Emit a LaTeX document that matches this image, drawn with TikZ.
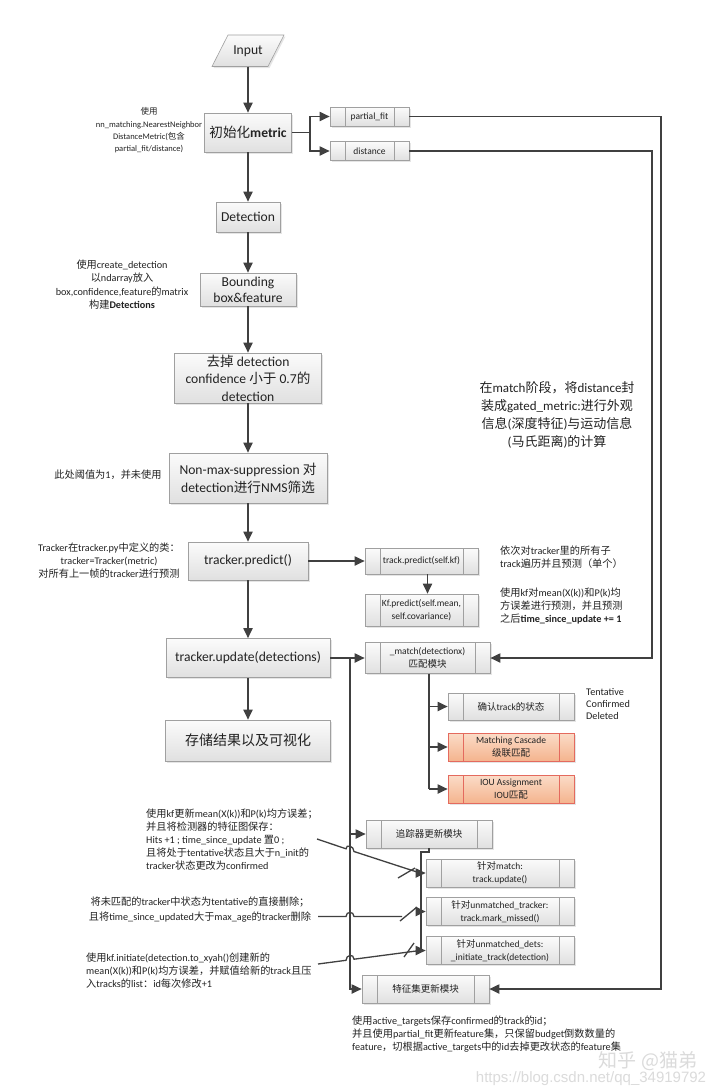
\documentclass[tikz,border=0pt]{standalone}
\usepackage{fontspec}
\setmainfont{Carlito}
\newfontfamily\cjkfont{Noto Sans CJK SC}
\newfontfamily\wmfont{Liberation Sans}
\usetikzlibrary{arrows.meta,shadows,calc}
\XeTeXinterchartokenstate=1
\chardef\CJKcls=7
\makeatletter
\count@="21 \loop\ifnum\count@<"7F \XeTeXcharclass\count@=0 \advance\count@ by 1 \repeat
\count@="3000 \loop\ifnum\count@<"3040 \XeTeXcharclass\count@=\CJKcls \advance\count@ by 1 \repeat
\count@="4E00 \loop\ifnum\count@<"A000 \XeTeXcharclass\count@=\CJKcls \advance\count@ by 1 \repeat
\count@="FF00 \loop\ifnum\count@<"FFF0 \XeTeXcharclass\count@=\CJKcls \advance\count@ by 1 \repeat
\makeatother
\XeTeXinterchartoks 0 \CJKcls = {\begingroup\cjkfont}
\XeTeXinterchartoks 4095 \CJKcls = {\begingroup\cjkfont}
\XeTeXinterchartoks \CJKcls 0 = {\endgroup}
\XeTeXinterchartoks \CJKcls 4095 = {\endgroup}
\definecolor{lineC}{HTML}{404040}
\definecolor{boxB}{HTML}{A0A0A0}
\definecolor{boxT}{HTML}{FBFBFB}
\definecolor{boxBot}{HTML}{E0E0E0}
\definecolor{orT}{HTML}{FBDCC8}
\definecolor{orB}{HTML}{F4B48E}
\definecolor{orD}{HTML}{E46A5E}
\definecolor{txtC}{HTML}{222222}
\begin{document}
\begin{tikzpicture}[x=1pt,y=-1pt,
  box/.style={draw=boxB, line width=0.6pt, top color=boxT, bottom color=boxBot,
    inner sep=0pt, align=center, text=txtC, font=\fontsize{13.6}{17}\selectfont,
    drop shadow={shadow xshift=1.5pt,shadow yshift=-1.5pt,opacity=0.2}},
  subbox/.style={box, font=\fontsize{9.5}{12.5}\selectfont,
    path picture={
      \draw[#1,line width=0.6pt] ([xshift=15pt]path picture bounding box.north west) -- ([xshift=15pt]path picture bounding box.south west);
      \draw[#1,line width=0.6pt] ([xshift=-15pt]path picture bounding box.north east) -- ([xshift=-15pt]path picture bounding box.south east);}},
  subbox/.default=boxB,
  orbox/.style={subbox=orD, draw=orD, top color=orT, bottom color=orB},
  conn/.style={draw=lineC, line width=1.8pt},
  arr/.style={conn, -{Triangle[length=10pt,width=9pt]}},
  note/.style={inner sep=0pt, text=txtC, font=\fontsize{10.2}{13}\selectfont},
]
\useasboundingbox (0,0) rectangle (720,1092);
\fill[white] (0,0) rectangle (720,1092);

% Input parallelogram
\path[draw=boxB, line width=0.6pt, top color=boxT, bottom color=boxBot,
  drop shadow={shadow xshift=1.5pt,shadow yshift=-1.5pt,opacity=0.2}]
  (228,35) -- (284,35) -- (268,66.5) -- (212,66.5) -- cycle;
\node[inner sep=0pt, minimum height=31.5pt, text=txtC, font=\fontsize{13.6}{17}\selectfont] (input) at (248,50.75) {Input};

% main column
\node[box, minimum width=87pt, minimum height=39pt] (metric) at (248,132.5) {初始化\textbf{metric}};
\node[subbox, minimum width=79pt, minimum height=19pt] (pf) at (369.5,116.5) {partial\_fit};
\node[subbox, minimum width=79pt, minimum height=19pt] (dist) at (369.5,151) {distance};
\node[box, minimum width=64pt, minimum height=30pt] (det) at (248,217) {Detection};
\node[box, minimum width=96pt, minimum height=33pt, font=\fontsize{13.6}{16}\selectfont] (bbox) at (248,289.5) {Bounding\\box\&feature};
\node[box, minimum width=147pt, minimum height=50pt, font=\fontsize{13.6}{17.5}\selectfont] (drop) at (248,378) {去掉 detection\\confidence 小于 0.7的\\detection};
\node[box, minimum width=158pt, minimum height=50pt, font=\fontsize{13.6}{18}\selectfont] (nms) at (248,478) {Non-max-suppression 对\\detection进行NMS筛选};
\node[box, minimum width=120pt, minimum height=38pt] (pred) at (248,561) {tracker.predict()};
\node[subbox, minimum width=113pt, minimum height=26pt] (tpred) at (421.5,561) {track.predict(self.kf)};
\node[subbox, minimum width=113pt, minimum height=32pt] (kfp) at (421.5,610) {Kf.predict(self.mean,\\self.covariance)};
\node[box, minimum width=164pt, minimum height=39pt] (upd) at (248,658) {tracker.update(detections)};
\node[subbox, minimum width=125pt, minimum height=31pt] (match) at (427.5,658) {\_match(detectionx)\\匹配模块};
\node[box, minimum width=165pt, minimum height=41pt, font=\fontsize{14}{17}\selectfont] (store) at (248,740.5) {存储结果以及可视化};
\node[subbox, minimum width=126pt, minimum height=27pt] (conf) at (511,706.5) {确认track的状态};
\node[orbox, minimum width=126pt, minimum height=28pt] (casc) at (511,747) {Matching Cascade\\级联匹配};
\node[orbox, minimum width=126pt, minimum height=28pt] (iou) at (511,789) {IOU Assignment\\IOU匹配};
\node[subbox, minimum width=126pt, minimum height=28pt] (tupd) at (429,834) {追踪器更新模块};
\node[subbox, minimum width=148pt, minimum height=28pt] (m1) at (500,873) {针对match:\\track.update()};
\node[subbox, minimum width=148pt, minimum height=28pt] (m2) at (500,911.5) {针对unmatched\_tracker:\\track.mark\_missed()};
\node[subbox, minimum width=148pt, minimum height=28pt] (m3) at (500,950.5) {针对unmatched\_dets:\\\_initiate\_track(detection)};
\node[subbox, minimum width=127pt, minimum height=28pt] (feat) at (425.5,989) {特征集更新模块};

% main arrows
\draw[arr] (input.south) -- (metric.north);
\draw[arr] (metric.south) -- (det.north);
\draw[arr] (det.south) -- (bbox.north);
\draw[arr] (bbox.south) -- (drop.north);
\draw[arr] (drop.south) -- (nms.north);
\draw[arr] (nms.south) -- (pred.north);
\draw[arr] (pred.south) -- (upd.north);
\draw[arr] (upd.south) -- (store.north);

% metric branches
\coordinate (J1) at (310,132.5);
\draw[conn] (metric.east) -- (J1);
\draw[arr] (J1) |- (pf.west);
\draw[arr] (J1) |- (dist.west);
\coordinate (R1) at (661,116.5);
\coordinate (R2) at (652,151);
\draw[arr] (pf.east) -- (R1) |- (feat.east);
\draw[arr] (dist.east) -- (R2) |- (match.east);

% predict
\draw[arr] (pred.east) -- (tpred.west);
\draw[arr] ($(tpred.south)+(6,0)$) -- ($(kfp.north)+(6,0)$);

% update
\draw[arr] (upd.east) -- (match.west);
\coordinate (V1) at (350,658);
\draw[arr] (V1) |- (feat.west);
\draw[arr] (V1 |- tupd.west) -- (tupd.west);

% match branches
\coordinate (M0) at (429,673.5);
\draw[conn] (M0) -- (M0 |- iou.west);
\draw[arr] (M0 |- conf.west) -- (conf.west);
\draw[arr] (M0 |- casc.west) -- (casc.west);
\draw[arr] (M0 |- iou.west) -- (iou.west);

% tracker update branches
\coordinate (T1) at (421,852);
\draw[conn] (tupd.south) |- (T1) -- (T1 |- m3.west);
\draw[arr] (T1 |- m1.west) -- (m1.west);
\draw[arr] (T1 |- m2.west) -- (m2.west);
\draw[arr] (T1 |- m3.west) -- (m3.west);

% annotations
\node[note, align=center, font=\fontsize{8.5}{12.3}\selectfont] (nmetric) at (149,130.5) {使用\\nn\_matching.NearestNeighbor\\DistanceMetric(包含\\partial\_fit/distance)};
\node[note, align=center, font=\fontsize{10.2}{13.5}\selectfont] (nbbox) at (122,284.5) {使用create\_detection\\以ndarray放入\\box,confidence,feature的matrix\\构建\textbf{Detections}};
\node[note] (nnms) at (108,475) {此处阈值为1，并未使用};
\node[note, align=center] (ntrk) at (109,561) {Tracker在tracker.py中定义的类：\\tracker=Tracker(metric)\\对所有上一帧的tracker进行预测};
\node[note, align=left, anchor=west] (ntp) at (500,557) {依次对tracker里的所有子\\track遍历并且预测（单个）};
\node[note, align=left, anchor=west] (nkf) at (500,606) {使用kf对mean(X(k))和P(k)均\\方误差进行预测，并且预测\\之后\textbf{time\_since\_update += 1}};
\node[note, align=center, font=\fontsize{13}{18}\selectfont] (nbig) at (557,415) {在match阶段，将distance封\\装成gated\_metric:进行外观\\信息(深度特征)与运动信息\\(马氏距离)的计算};
\node[note, align=left, anchor=west, font=\fontsize{10.2}{12}\selectfont] (nstate) at (586,704) {Tentative\\Confirmed\\Deleted};
\node[note, align=left, anchor=west] (nupd) at (146,840) {使用kf更新mean(X(k))和P(k)均方误差；\\并且将检测器的特征图保存：\\Hits +1 ; time\_since\_update 置0 ;\\且将处于tentative状态且大于n\_init的\\tracker状态更改为confirmed};
\node[note, align=center, font=\fontsize{10.2}{15}\selectfont] (ndel) at (200,909.5) {将未匹配的tracker中状态为tentative的直接删除；\\且将time\_since\_updated大于max\_age的tracker删除};
\node[note, align=left, anchor=west] (ninit) at (86,971) {使用kf.initiate(detection.to\_xyah()创建新的\\mean(X(k))和P(k)均方误差，并赋值给新的track且压\\入tracks的list：id每次修改+1};
\node[note, align=left, anchor=west, font=\fontsize{10.2}{12.7}\selectfont] (nfeat) at (352,1034) {使用active\_targets保存confirmed的track的id；\\并且使用partial\_fit更新feature集，只保留budget倒数数量的\\feature，切根据active\_targets中的id去掉更改状态的feature集};

% callout lines with line jumps
\coordinate (C1s) at (317,839);
\coordinate (C1e) at (420,873);
\draw[draw=lineC, line width=1.3pt] (C1s) -- (346,848.8) .. controls (346,843.5) and (354,846) .. (354,851.5) -- (C1e);
\draw[draw=lineC, line width=1.3pt] (398,878) -- (415,868);
\coordinate (C2s) at (318,916.5);
\coordinate (C2e) at (402,916.5);
\draw[draw=lineC, line width=1.3pt] (C2s) -- (346,916.5) .. controls (346,911) and (354,911) .. (354,916.5) -- (C2e);
\draw[draw=lineC, line width=1.3pt] (400,921) -- (417,907);
\coordinate (C3s) at (318,964);
\coordinate (C3e) at (420,950.5);
\draw[draw=lineC, line width=1.3pt] (C3s) -- (346,960.3) .. controls (346,954.5) and (354,953.5) .. (354,959.2) -- (C3e);
\draw[draw=lineC, line width=1.3pt] (404,957) -- (414,943);

% watermark
\node[inner sep=0pt, text=gray!28, font=\fontsize{19}{21}\selectfont\cjkfont] (wm1) at (648,1061) {知乎 @猫弟};
\node[inner sep=0pt, text=gray!28, font=\fontsize{15}{17}\selectfont\wmfont] (wm2) at (591,1079) {https://blog.csdn.net/qq\_34919792};
\end{tikzpicture}
\end{document}
